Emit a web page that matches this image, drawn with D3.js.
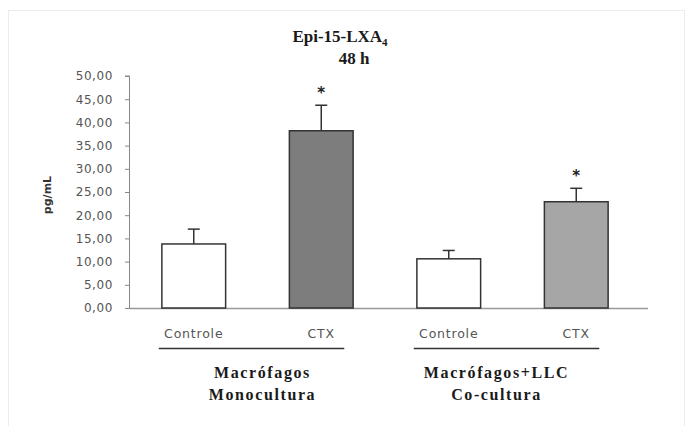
<!DOCTYPE html>
<html>
<head>
<meta charset="utf-8">
<script src="https://cdn.jsdelivr.net/npm/d3@7"></script>
<style>
  body { margin: 0; background: #fff; }
  svg { display: block; }
</style>
</head>
<body>
<svg id="chart" width="692" height="426"></svg>
<script>
//data
const categories = ["Controle", "CTX", "Controle ", "CTX "]
const shortLabels = ["Controle", "CTX", "Controle", "CTX"]
const means = [13.8, 38.2, 10.6, 22.9]
const errors = [3.2, 5.5, 1.8, 2.9]
const significant = [false, true, false, true]
const fills = ["#ffffff", "#7d7d7d", "#ffffff", "#a6a6a6"]
const groups = [
  { lines: ["Macrófagos", "Monocultura"], from: 0, to: 1 },
  { lines: ["Macrófagos+LLC", "Co-cultura"], from: 2, to: 3 }
]
const yTicks = [0, 5, 10, 15, 20, 25, 30, 35, 40, 45, 50]

const W = 692, H = 426
const m = { top: 76, left: 130, right: 52, bottom: 118 }

let svg = d3.select("#chart")

//faint frame around the figure
svg.append("rect").attr("x", 8.5).attr("y", 10.5).attr("width", 676).attr("height", 430)
  .attr("fill", "none").attr("stroke", "#ececec")

let x = d3.scaleBand().domain(categories).range([m.left, W - m.right]).paddingInner(0.5).paddingOuter(0.25)
let y = d3.scaleLinear().domain([0, 50]).range([H - m.bottom, m.top])

//y axis
let yAxis = svg.append("g").attr("transform", `translate(${m.left},0)`)
  .call(d3.axisLeft(y).tickValues(yTicks).tickSize(5).tickPadding(12)
    .tickFormat(d => d3.format(".2f")(d).replace(".", ",")))
yAxis.select(".domain").attr("stroke", "#888").attr("d", `M-0.5,${y(0)}V${y(50)}H-5`)
yAxis.selectAll(".tick line").attr("stroke", "#888")
yAxis.selectAll("text").attr("fill", "#555").attr("font-family", "DejaVu Sans")
  .attr("font-size", 12).attr("letter-spacing", 0.6)

//x axis baseline
svg.append("line").attr("x1", m.left).attr("x2", W - m.right + 8)
  .attr("y1", y(0) + 0.5).attr("y2", y(0) + 0.5).attr("stroke", "#999").attr("stroke-width", 1.5)

//bars
svg.selectAll("rect.bar").data(categories).enter().append("rect").attr("class", "bar")
  .attr("x", d => x(d)).attr("width", x.bandwidth())
  .attr("y", (d, i) => y(means[i])).attr("height", (d, i) => y(0) - y(means[i]))
  .attr("fill", (d, i) => fills[i]).attr("stroke", "#333").attr("stroke-width", 1.5)

//upper error whiskers
let cx = d => x(d) + x.bandwidth() / 2
svg.selectAll("line.err").data(categories).enter().append("line").attr("class", "err")
  .attr("x1", cx).attr("x2", cx)
  .attr("y1", (d, i) => y(means[i])).attr("y2", (d, i) => y(means[i] + errors[i]))
  .attr("stroke", "#333").attr("stroke-width", 1.5)
svg.selectAll("line.cap").data(categories).enter().append("line").attr("class", "cap")
  .attr("x1", d => cx(d) - 6).attr("x2", d => cx(d) + 6)
  .attr("y1", (d, i) => y(means[i] + errors[i])).attr("y2", (d, i) => y(means[i] + errors[i]))
  .attr("stroke", "#333").attr("stroke-width", 1.5)

//asterisks
svg.selectAll("text.star").data(categories.filter((d, i) => significant[i])).enter().append("text")
  .attr("class", "star")
  .attr("x", d => cx(d)).attr("y", d => { let i = categories.indexOf(d); return y(means[i] + errors[i]) - 7 })
  .attr("text-anchor", "middle").attr("font-family", "DejaVu Sans").attr("font-weight", "bold")
  .attr("font-size", 15).attr("fill", "#222").text("*")

//category labels
svg.selectAll("text.cat").data(categories).enter().append("text").attr("class", "cat")
  .attr("x", cx).attr("y", 338).attr("text-anchor", "middle")
  .attr("font-family", "DejaVu Sans").attr("font-size", 12.5).attr("letter-spacing", 0.8)
  .attr("fill", "#555").text((d, i) => shortLabels[i])

//group underline and names
groups.forEach(g => {
  let a = cx(categories[g.from]), b = cx(categories[g.to])
  svg.append("line").attr("x1", a - 35).attr("x2", b + 23).attr("y1", 348.5).attr("y2", 348.5)
    .attr("stroke", "#333").attr("stroke-width", 1.5)
  let mid = (a + b) / 2 + (g.from === 0 ? 5 : -16)
  g.lines.forEach((t, j) => {
    svg.append("text").attr("x", mid).attr("y", 378 + j * 22).attr("text-anchor", "middle")
      .attr("font-family", "Liberation Serif").attr("font-weight", "bold").attr("font-size", 16)
      .attr("letter-spacing", 1.6).attr("fill", "#1a1a1a").text(t)
  })
})

//y title
svg.append("text").attr("transform", "translate(51,195) rotate(-90)").attr("text-anchor", "middle")
  .attr("font-family", "DejaVu Sans").attr("font-weight", "bold").attr("font-size", 11)
  .attr("fill", "#333").text("pg/mL")

//title
let title = svg.append("text").attr("x", 340).attr("y", 42).attr("text-anchor", "middle")
  .attr("font-family", "Liberation Serif").attr("font-weight", "bold").attr("font-size", 17).attr("fill", "#1a1a1a")
title.append("tspan").text("Epi-15-LXA")
title.append("tspan").attr("font-size", 11).attr("dy", 4).text("4")
svg.append("text").attr("x", 354).attr("y", 64).attr("text-anchor", "middle")
  .attr("font-family", "Liberation Serif").attr("font-weight", "bold").attr("font-size", 17)
  .attr("fill", "#1a1a1a").text("48 h")
</script>
</body>
</html>
